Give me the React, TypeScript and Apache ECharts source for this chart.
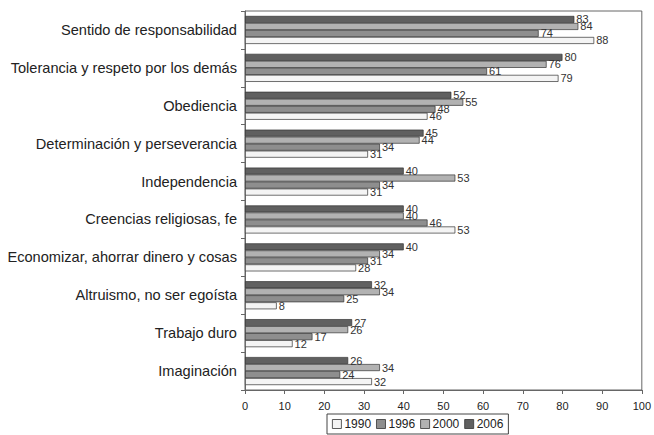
import React, { useEffect, useRef } from "react";
import * as echarts from "echarts";

const categories = [
  "Sentido de responsabilidad",
  "Tolerancia y respeto por los demás",
  "Obediencia",
  "Determinación y perseverancia",
  "Independencia",
  "Creencias religiosas, fe",
  "Economizar, ahorrar dinero y cosas",
  "Altruismo, no ser egoísta",
  "Trabajo duro",
  "Imaginación",
];
const years = ["1990", "1996", "2000", "2006"];
const v1990 = [88, 79, 46, 31, 31, 53, 28, 8, 12, 32];
const v1996 = [74, 61, 48, 34, 34, 46, 31, 25, 17, 24];
const v2000 = [84, 76, 55, 44, 53, 40, 34, 34, 26, 34];
const v2006 = [83, 80, 52, 45, 40, 40, 40, 32, 27, 26];
const xTicks = [0, 10, 20, 30, 40, 50, 60, 70, 80, 90, 100];

const colors = ["#f4f4f4", "#8e8e8e", "#b2b2b2", "#606060"];
const values = [v1990, v1996, v2000, v2006];

export default function App() {
  const ref = useRef<HTMLDivElement>(null);
  useEffect(() => {
    if (!ref.current) return;
    const chart = echarts.init(ref.current, null, { renderer: "svg" });
    const font = "Liberation Sans, Arial, sans-serif";
    // top-to-bottom within a group: 2006, 2000, 1996, 1990
    const order = [3, 2, 1, 0];
    chart.setOption({
      animation: false,
      backgroundColor: "#ffffff",
      textStyle: { fontFamily: font },
      grid: { left: 245, right: 12, top: 11, bottom: 45, show: true, borderColor: "#666", borderWidth: 1 },
      legend: {
        bottom: 1,
        left: 327,
        itemWidth: 9,
        itemHeight: 9,
        itemGap: 5,
        padding: [4, 5, 4, 5],
        borderColor: "#444",
        borderWidth: 1,
        borderRadius: 0,
        textStyle: { fontSize: 12, color: "#222", fontFamily: font, padding: [0, 0, 0, -2] },
        data: years.map((y, i) => ({
          name: y,
          icon: "rect",
          itemStyle: { color: colors[i], borderColor: "#333", borderWidth: 0.8 },
        })),
      },
      xAxis: {
        type: "value",
        min: 0,
        max: 100,
        interval: 10,
        axisLine: { show: true, lineStyle: { color: "#666" } },
        axisTick: { show: true, length: 4, lineStyle: { color: "#666" } },
        splitLine: { show: false },
        axisLabel: { fontSize: 11, color: "#222", margin: 10, formatter: (v: number) => (xTicks.includes(v) ? String(v) : "") },
      },
      yAxis: {
        type: "category",
        data: categories,
        inverse: true,
        axisLine: { show: true, lineStyle: { color: "#666" } },
        axisTick: { show: true, length: 4, lineStyle: { color: "#666" } },
        axisLabel: { fontSize: 14.6, color: "#222", margin: 8, fontFamily: font },
      },
      series: order.map((i) => ({
        name: years[i],
        type: "bar",
        data: values[i],
        barGap: "0%",
        barCategoryGap: "26%",
        itemStyle: { color: colors[i], borderColor: "#333", borderWidth: 0.7 },
        label: { show: true, position: "right", distance: 2, fontSize: 11, color: "#333", fontFamily: font },
      })),
    });
    return () => chart.dispose();
  }, []);
  return <div ref={ref} style={{ position: "absolute", left: 0, top: 0, width: 654, height: 435 }} />;
}
